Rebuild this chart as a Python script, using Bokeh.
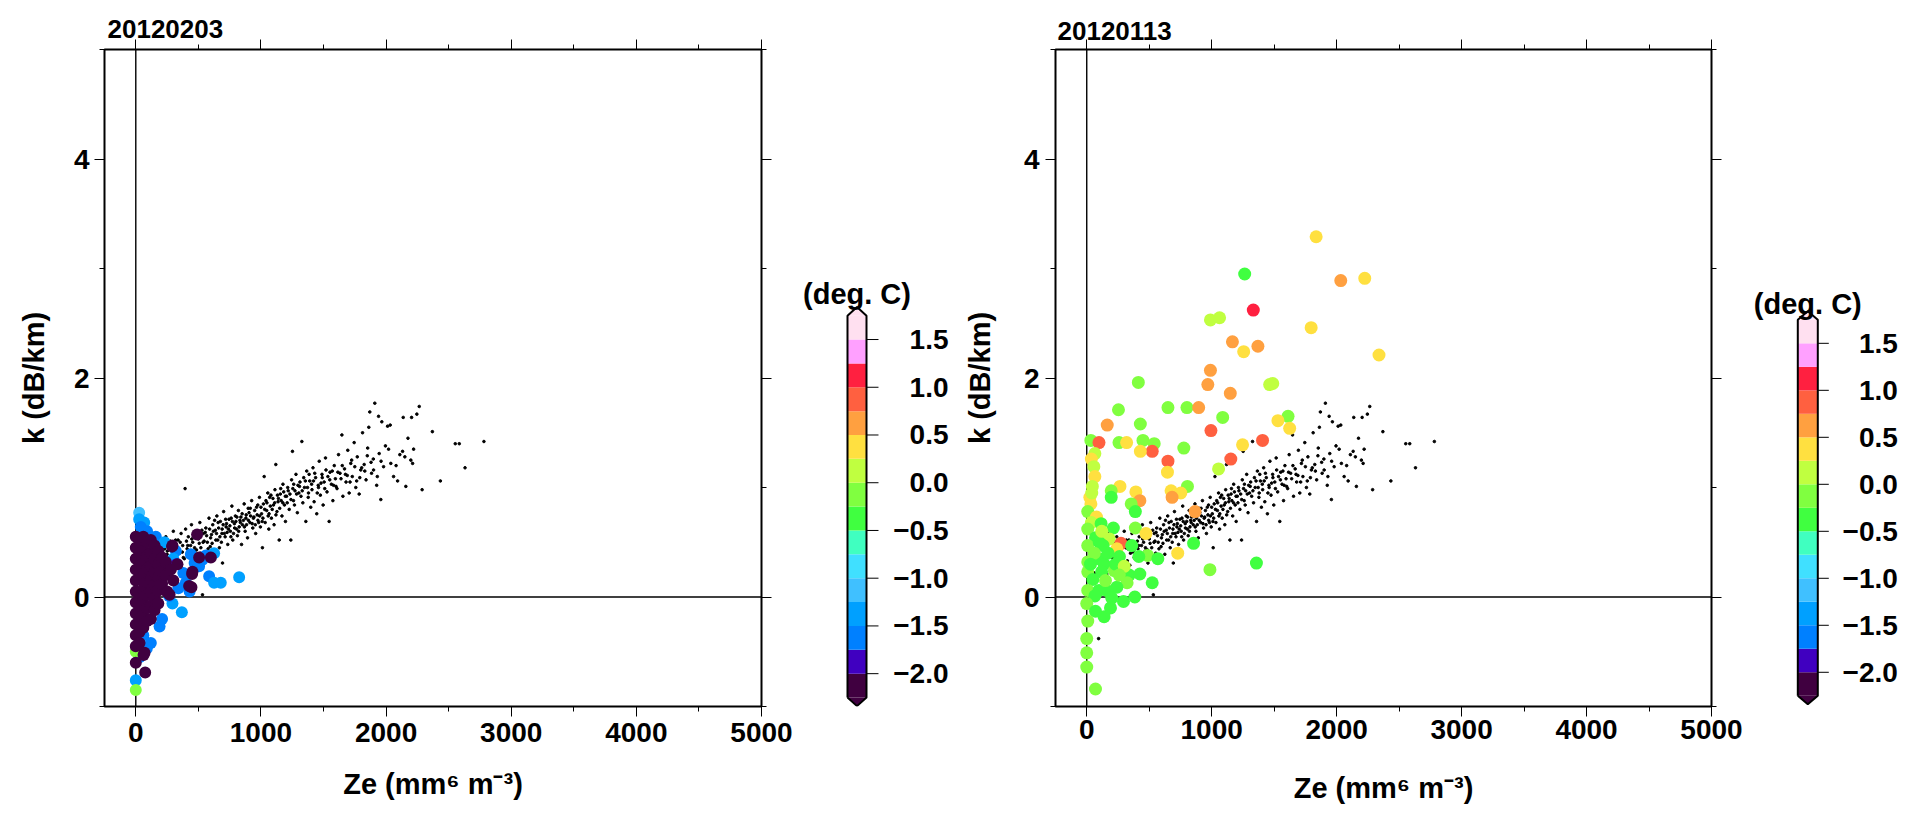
from bokeh.plotting import figure
from bokeh.layouts import row
from bokeh.models import (ColumnDataSource, LinearColorMapper, SingleIntervalTicker,
                          LinearAxis, Span, Range1d)
from bokeh.core.properties import value
from bokeh.embed import file_html
from bokeh.resources import INLINE

FONT = "Liberation Sans"

# ---------------- colour scale (deg. C) ----------------
levels = [-2.25, -2.0, -1.75, -1.5, -1.25, -1.0, -0.75, -0.5, -0.25,
          0.0, 0.25, 0.5, 0.75, 1.0, 1.25, 1.5, 1.75]
palette = ["#400040", "#4000c0", "#0080ff", "#00a0ff", "#40c0ff", "#40e0ff",
           "#40ffc0", "#40ff40", "#80ff40", "#c0ff40", "#ffe040", "#ffa040",
           "#ff6040", "#ff2040", "#ffa0ff", "#ffe0f0"]
under_color = "#400040"
over_color = "#ffe0f0"
cbar_ticks = [-2.0, -1.5, -1.0, -0.5, 0.0, 0.5, 1.0, 1.5]
cbar_tick_labels = ["\u22122.0", "\u22121.5", "\u22121.0", "\u22120.5",
                    "0.0", "0.5", "1.0", "1.5"]
cbar_title = "(deg. C)"

# ---------------- axis texts ----------------
x_label = "Ze (mm\u2076 m\u207b\u00b3)"
y_label = "k (dB/km)"
title_left = "20120203"
title_right = "20120113"

# ---------------- reference cloud (black dots, same in both panels) ----------------
ze_ref = [30, 45, 60, 75, 80, 95, 110, 120, 135, 150, 160, 175, 185, 195,
          205, 215, 228, 240, 252, 265, 276, 288, 300, 312, 325, 338, 350, 362, 375, 388, 394, 398,
          410, 420, 432, 445, 455, 468, 478, 490, 500, 512, 520, 533, 540, 552, 560, 572, 585, 595,
          605, 615, 625, 636, 648, 655, 668, 676, 688, 693, 702, 714, 722, 735, 745, 756, 768, 775, 788, 796,
          805, 812, 820, 832, 845, 852, 866, 874, 880, 893, 905, 912, 926, 935, 944, 958, 965, 976, 988, 996,
          1005, 1012, 1020, 1026, 1034, 1046, 1055, 1063, 1075, 1084, 1096, 1105, 1112, 1119, 1128, 1137,
          1146, 1155, 1168, 1176, 1188, 1196,
          1205, 1214, 1226, 1239, 1245, 1252, 1260, 1272, 1280, 1291, 1303, 1312, 1327, 1335, 1348, 1359,
          1366, 1378, 1390, 1398,
          1408, 1416, 1425, 1437, 1446, 1458, 1466, 1475, 1488, 1497, 1505, 1516, 1528, 1545, 1552, 1563,
          1575, 1586, 1595,
          1608, 1620, 1632, 1647, 1655, 1668, 1680, 1694, 1705, 1718, 1730, 1745, 1758, 1770, 1785, 1798,
          1812, 1825, 1840, 1853, 1862, 1870, 1884, 1898, 1910, 1925, 1940, 1945, 1958, 1966, 1980, 1995,
          2012, 2033, 2038, 2060, 2092, 2110, 2132, 2137, 2158, 2175, 2198, 2204, 2212, 2246, 2265, 2288,
          2370, 2434, 2553, 2585, 2631, 2782,
          230, 260, 285, 318, 345, 372, 405, 438, 462, 485, 507, 528, 546, 566, 590, 610, 630, 645, 662,
          684, 698, 718, 730, 752, 762, 781, 800, 826, 840, 860, 885, 898, 918, 930, 950, 970, 982, 1000,
          1016, 1040, 1058, 1070, 1090, 1110, 1132, 1150, 1162, 1182, 1210, 1232, 1255, 1268, 1296, 1320,
          1342, 1372, 1385, 1420, 1450, 1480, 1510, 1535, 1570, 1600, 1640, 1675, 1712, 1750, 1790, 1830,
          1880, 1930,
          250, 270, 295, 330, 355, 380, 415, 448, 470, 495, 515, 538, 555, 578, 598, 620, 640, 658, 672, 690,
          708, 725, 740, 760, 772, 790, 808, 822, 836, 850, 868, 882, 900, 915, 940, 955, 975, 990, 1010, 1030,
          1048, 1065, 1080, 1100, 1120, 1140, 1158, 1175, 1195, 1218, 1240, 1262, 1285, 1308, 1330, 1355,
          1380, 1405, 1430, 1460, 1490, 1520, 1550, 1580, 1615, 1650, 1690, 1725, 1765, 1805, 1850, 1900,
          1960, 2020, 2080, 2150, 2220]
k_ref = [0.12, 0.35, 0.22, 0.05, 0.41, -0.38, 0.28, 0.15, 0.47, 0.33, 0.21, 0.58, 0.40, 0.27,
         0.36, 0.49, 0.30, 0.55, 0.42, 0.24, 0.51, 0.37, 0.60, 0.45, 0.33, 0.52, 0.40, 0.58, 0.47, 0.35, 0.99, 0.62,
         0.44, 0.55, 0.38, 0.66, 0.50, 0.42, 0.60, 0.31, 0.53, 0.68, 0.45, 0.02, 0.58, 0.40, 0.63, 0.50, 0.72, 0.46,
         0.57, 0.66, 0.39, 0.61, 0.74, 0.52, 0.45, 0.69, 0.58, 0.31, 0.78, 0.55, 0.64, 0.48, 0.71, 0.60, 0.83, 0.52, 0.67, 0.74,
         0.62, 0.56, 0.79, 0.70, 0.48, 0.66, 0.85, 0.60, 0.72, 0.54, 0.77, 0.68, 0.88, 0.63, 0.73, 0.58, 0.82, 0.70, 0.91, 0.64,
         0.76, 0.45, 0.85, 1.10, 0.68, 0.79, 0.95, 0.62, 0.83, 0.72, 0.90, 0.66, 0.98, 1.21, 0.78, 0.87,
         0.52, 0.94, 0.74, 1.03, 0.84, 0.69,
         0.92, 1.00, 0.80, 0.52, 1.07, 1.33, 0.88, 0.97, 1.12, 0.77, 0.95, 1.05, 1.42, 0.86, 1.00, 0.69,
         1.15, 0.91, 1.06, 0.82,
         0.98, 1.18, 0.87, 1.09, 0.76, 1.02, 1.24, 0.93, 1.12, 0.84, 1.05, 1.27, 0.96, 0.69, 1.14, 1.03,
         0.88, 1.20, 1.08,
         0.99, 1.30, 1.13, 1.48, 0.92, 1.17, 1.05, 1.34, 0.95, 1.22, 1.10, 1.41, 1.00, 1.28, 0.94, 1.16,
         1.50, 1.21, 1.07, 1.36, 1.55, 1.69, 1.13, 1.26, 1.77, 1.02, 1.65, 1.31, 0.89, 1.60, 1.19, 1.38,
         1.56, 1.57, 1.22, 1.10, 1.06, 1.30, 1.33, 1.64, 1.01, 1.45, 1.25, 1.64, 1.22, 1.67, 1.74, 0.98,
         1.51, 1.06, 1.40, 1.40, 1.18, 1.42,
         0.44, 0.34, 0.46, 0.52, 0.29, 0.41, 0.51, 0.47, 0.57, 0.43, 0.49, 0.61, 0.51, 0.56, 0.62, 0.49, 0.70, 0.58, 0.63,
         0.50, 0.66, 0.71, 0.59, 0.65, 0.72, 0.58, 0.69, 0.64, 0.73, 0.70, 0.66, 0.81, 0.74, 0.67, 0.79, 0.75, 0.68, 0.82,
         0.72, 0.88, 0.74, 0.91, 0.80, 0.86, 0.93, 0.81, 0.88, 0.96, 0.86, 0.94, 0.99, 0.84, 1.02, 0.92,
         1.09, 1.00, 1.12, 1.06, 0.95, 1.04, 0.99, 1.10, 1.15, 1.01, 1.08, 1.12, 1.05, 1.19, 1.09, 1.15,
         1.23, 1.10,
         0.39, 0.47, 0.33, 0.44, 0.50, 0.36, 0.47, 0.53, 0.45, 0.55, 0.40, 0.50, 0.59, 0.44, 0.54, 0.60, 0.52, 0.68, 0.55, 0.62,
         0.58, 0.67, 0.62, 0.55, 0.69, 0.63, 0.73, 0.60, 0.68, 0.76, 0.64, 0.75, 0.70, 0.81, 0.72, 0.66, 0.84, 0.74, 0.69, 0.80,
         0.86, 0.76, 0.93, 0.84, 0.75, 0.90, 0.99, 0.86, 0.92, 0.97, 0.89, 1.03, 0.94, 1.01, 0.97, 1.06,
         0.95, 1.03, 1.13, 1.00, 1.09, 1.16, 1.07, 1.02, 1.14, 1.20, 1.11, 1.25, 1.06, 1.18, 1.29, 1.16,
         1.24, 1.35, 1.20, 1.28, 1.35]

# ---------------- left panel (20120203) coloured points ----------------
left_ze = [27, 27, 67, 40, 90, 160, 230, 320, 440, 533, 626, 506, 586, 626, 679, 826, 293, 368, 400,
           266, 380, 470, 250, 210, 190, 120, 88, 60, 0, 30, 150, 340, 430, 300, 560, 0, 0, 325,
           0, 0, 0, 0, 0, 0, 0, 0, 0, 0, 0, 0,
           30, 30, 30, 30, 30, 30, 30, 30, 30,
           60, 60, 60, 60, 60, 60, 60, 60, 70, 75, 62,
           90, 90, 90, 90, 90, 90, 90,
           120, 120, 120, 120, 120, 120, 120,
           150, 150, 150, 150, 150, 150,
           180, 180, 180, 180, 180,
           210, 210, 210, 240, 240, 250,
           293, 453, 426, 490, 506, 600, 333, 280, 300, 253, 270, 290, 450, 445]
left_k = [0.77, 0.71, 0.68, 0.64, 0.60, 0.55, 0.50, 0.42, 0.39, 0.34, 0.40, 0.28, 0.19, 0.13, 0.13, 0.18, -0.06, -0.14, 0.13,
          0.01, 0.22, 0.31, 0.30, -0.20, -0.27, -0.42, -0.47, -0.35, -0.76, -0.55, 0.15, 0.08, 0.05, 0.35, 0.38, -0.85, -0.50, 0.30,
          0.55, 0.45, 0.35, 0.25, 0.15, 0.05, -0.05, -0.15, -0.25, -0.35, -0.45, -0.60,
          0.52, 0.40, 0.28, 0.16, 0.04, -0.08, -0.20, -0.32, -0.42,
          0.55, 0.43, 0.31, 0.19, 0.07, -0.05, -0.17, -0.28, -0.51, -0.69, -0.53,
          0.50, 0.38, 0.26, 0.14, 0.02, -0.10, -0.22,
          0.52, 0.40, 0.28, 0.16, 0.04, -0.08, -0.20,
          0.47, 0.35, 0.23, 0.11, -0.01, -0.12,
          0.42, 0.30, 0.18, 0.06, -0.06,
          0.36, 0.24, 0.12, 0.32, 0.20, 0.05,
          0.47, 0.23, 0.10, 0.57, 0.36, 0.36, 0.30, 0.25, 0.15, 0.04, 0.02, 0.46, 0.21, 0.09]
left_t = [-1.1, -1.4, -1.4, -1.6, -1.6, -1.6, -1.4, -1.6, -1.6, -1.6, -1.4, -1.6, -1.6, -1.4, -1.4, -1.4, -1.4, -1.4, -1.6,
          -1.6, -1.6, -1.6, -1.6, -1.6, -1.6, -1.6, -1.6, -1.6, -1.4, -1.6, -1.6, -1.6, -1.6, -1.4, -1.6, -0.1, -0.1, -1.9,
          -2.4, -2.4, -2.4, -2.4, -2.4, -2.4, -2.4, -2.4, -2.4, -2.4, -2.4, -2.4,
          -2.4, -2.4, -2.4, -2.4, -2.4, -2.4, -2.4, -2.4, -2.4,
          -2.4, -2.4, -2.4, -2.4, -2.4, -2.4, -2.4, -2.4, -2.4, -2.4, -2.4,
          -2.4, -2.4, -2.4, -2.4, -2.4, -2.4, -2.4,
          -2.4, -2.4, -2.4, -2.4, -2.4, -2.4, -2.4,
          -2.4, -2.4, -2.4, -2.4, -2.4, -2.4,
          -2.4, -2.4, -2.4, -2.4, -2.4,
          -2.4, -2.4, -2.4, -2.4, -2.4, -2.4,
          -2.4, -2.4, -2.4, -2.4, -2.4, -2.4, -2.4, -2.4, -2.4, -2.4, -2.4, -2.4, -2.4, -2.4]

# ---------------- right panel (20120113) coloured points ----------------
right_ze = [1836, 1264, 2033, 2225, 1333, 990, 1063, 1166, 1370, 1796, 1256, 2339, 990, 969, 413, 1489, 1464,
            1149, 650, 802, 896, 254, 1088, 1611, 1530, 1624, 164, 429, 994, 33, 98, 258, 319, 450, 540,
            1407, 1247, 524, 429, 777, 65, 37, 650, 1153, 57, 1055, 646, 65, 45, 266, 806, 196, 393, 675,
            753, 196, 25, 683, 425, 33, 356, 8, 389, 867, 78, 37, 115, 389, 474, 8, 213, 70, 180, 855, 8,
            131, 274, 360, 241, 728, 487, 569, 8, 98, 139, 262, 417, 1358, 986, 8, 119, 221, 340, 425, 49,
            524, 323, 8, 98, 160, 241, 385, 65, 200, 0, 294, 70, 139, 8, 0, 0, 0, 70,
            170, 230, 150, 100, 300, 190, 260, 60, 30, 120, 40]
right_k = [3.29, 2.95, 2.89, 2.91, 2.62, 2.53, 2.55, 2.33, 2.29, 2.46, 2.24, 2.21, 2.07, 1.94, 1.96, 1.95, 1.94,
           1.86, 1.73, 1.73, 1.73, 1.71, 1.64, 1.65, 1.61, 1.54, 1.57, 1.58, 1.52, 1.43, 1.41, 1.41, 1.41, 1.43, 1.40,
           1.43, 1.39, 1.33, 1.33, 1.36, 1.31, 1.26, 1.24, 1.26, 1.19, 1.17, 1.14, 1.10, 1.01, 1.01, 1.01, 0.97, 0.96, 0.97,
           0.95, 0.91, 0.91, 0.91, 0.88, 0.85, 0.85, 0.78, 0.78, 0.78, 0.73, 0.68, 0.67, 0.63, 0.58, 0.62, 0.63, 0.54, 0.53, 0.49, 0.47,
           0.47, 0.49, 0.47, 0.44, 0.40, 0.38, 0.35, 0.32, 0.35, 0.30, 0.37, 0.37, 0.31, 0.25, 0.23, 0.23, 0.24, 0.20, 0.21, 0.16,
           0.13, 0.13, 0.06, 0.06, 0.06, 0.09, 0.00, 0.01, -0.01, -0.06, -0.04, -0.13, -0.18, -0.22, -0.38, -0.51, -0.64, -0.84,
           0.40, 0.30, 0.15, 0.50, 0.28, -0.10, 0.20, 0.40, 0.30, 0.60, 0.95]
right_t = [0.4, -0.4, 0.6, 0.4, 1.1, 0.1, 0.1, 0.6, 0.6, 0.4, 0.4, 0.4, 0.6, 0.6, -0.1, 0.1, 0.1,
           0.6, -0.1, -0.1, 0.6, -0.1, -0.1, -0.1, 0.4, 0.4, 0.6, -0.1, 0.9, -0.1, 0.9, -0.1, 0.4, -0.1, -0.1,
           0.9, 0.4, 0.9, 0.4, -0.1, 0.1, 0.4, 0.9, 0.9, 0.1, 0.1, 0.4, 0.4, 0.1, 0.4, -0.1, -0.1, 0.4, 0.4,
           0.4, -0.4, 0.4, 0.6, 0.6, 0.4, -0.1, -0.1, -0.4, 0.6, 0.4, 0.1, -0.4, -0.1, 0.4, -0.1, -0.4, -0.4, 0.1, -0.4, -0.1,
           -0.4, 0.9, -0.4, 0.4, 0.4, -0.1, -0.4, -0.1, -0.4, -0.4, -0.4, -0.4, -0.4, -0.1, -0.1, -0.4, -0.1, -0.4, -0.4, -0.4,
           -0.4, -0.1, -0.1, -0.4, -0.4, -0.4, -0.4, -0.4, -0.4, -0.1, -0.4, -0.4, -0.4, -0.1, -0.1, -0.1, -0.1, -0.1,
           -0.4, -0.4, -0.1, -0.4, 0.1, -0.4, -0.1, -0.1, -0.4, 0.1, 0.1]

x_range_vals = (-250, 5000)
y_range_vals = (-1, 5)

# shared vertical geometry (a Bokeh row aligns borders of its plots)
TOP, FRAME_H, BOTTOM = 49, 657, 107

mapper = LinearColorMapper(palette=palette, low=levels[0], high=levels[-1],
                           low_color=under_color, high_color=over_color)


def style_axis(ax, show_labels=True):
    ax.axis_line_color = None
    ax.major_tick_line_color = "black"
    ax.minor_tick_line_color = "black"
    ax.major_tick_line_width = 1
    ax.minor_tick_line_width = 1
    ax.major_tick_in = 0
    ax.major_tick_out = 10
    ax.minor_tick_in = 0
    ax.minor_tick_out = 5
    ax.major_label_text_font = FONT
    ax.major_label_text_font_style = "bold"
    ax.axis_label_text_font = FONT
    ax.axis_label_text_font_style = "bold"
    ax.axis_label_text_font_size = "29px"
    ax.axis_label_text_color = "black"
    if show_labels:
        ax.major_label_text_font_size = "28px"
        ax.major_label_text_color = "black"
    else:
        ax.major_label_text_font_size = "1px"
        ax.major_label_text_color = None
        ax.major_label_standoff = 0


def make_panel(title, ze, k, t, dot_size, fw, mbl, mbr,
               xt_standoff, xl_standoff, yt_standoff, yl_standoff, title_offset, title_standoff):
    p = figure(frame_width=fw, frame_height=FRAME_H,
               x_range=Range1d(*x_range_vals), y_range=Range1d(*y_range_vals),
               output_backend="svg", toolbar_location=None,
               min_border_left=mbl, min_border_right=mbr,
               min_border_top=TOP, min_border_bottom=BOTTOM)
    p.background_fill_color = "white"
    p.border_fill_color = "white"
    p.outline_line_color = "black"
    p.outline_line_width = 2
    p.xgrid.visible = False
    p.ygrid.visible = False

    p.title.text = title
    p.title.align = "left"
    p.title.offset = title_offset
    p.title.standoff = title_standoff
    p.title.text_font = FONT
    p.title.text_font_style = "bold"
    p.title.text_font_size = "26px"
    p.title.text_color = "black"

    xax = p.xaxis[0]
    yax = p.yaxis[0]
    xax.ticker = SingleIntervalTicker(interval=1000, num_minor_ticks=2)
    yax.ticker = SingleIntervalTicker(interval=2, num_minor_ticks=2)
    style_axis(xax)
    style_axis(yax)
    xax.axis_label = x_label
    yax.axis_label = y_label
    xax.major_label_standoff = xt_standoff
    xax.axis_label_standoff = xl_standoff
    yax.major_label_standoff = yt_standoff
    yax.axis_label_standoff = yl_standoff

    top = LinearAxis(ticker=SingleIntervalTicker(interval=1000, num_minor_ticks=2))
    right = LinearAxis(ticker=SingleIntervalTicker(interval=2, num_minor_ticks=2))
    style_axis(top, show_labels=False)
    style_axis(right, show_labels=False)
    p.add_layout(top, "above")
    p.add_layout(right, "right")

    p.add_layout(Span(location=0, dimension="height", line_color="black",
                      line_width=1.4, level="underlay"))
    p.add_layout(Span(location=0, dimension="width", line_color="black",
                      line_width=1.4, level="underlay"))

    p.scatter(ze_ref, k_ref, marker="circle", size=2.6, color="black")
    src = ColumnDataSource(dict(ze=ze, k=k, t=t))
    p.scatter("ze", "k", source=src, marker="circle", size=dot_size,
              fill_color={"field": "t", "transform": mapper}, line_color=None)
    return p


def make_cbar(fw, x_start, x_end, y_start, y_end, tick_len, label_dx, title_dy):
    c = figure(frame_width=fw, frame_height=FRAME_H,
               x_range=Range1d(x_start, x_end), y_range=Range1d(y_start, y_end),
               output_backend="svg", toolbar_location=None,
               x_axis_location=None, y_axis_location=None,
               min_border_left=0, min_border_right=0,
               min_border_top=TOP, min_border_bottom=BOTTOM)
    c.outline_line_color = None
    c.background_fill_color = "white"
    c.border_fill_color = "white"
    c.grid.visible = False
    ext = 0.09
    lo, hi = levels[0], levels[-1]
    c.quad(left=0, right=1, bottom=levels[:-1], top=levels[1:],
           fill_color=palette, line_color=None)
    c.patch([0, 0.5, 1], [hi, hi + ext, hi], fill_color=over_color, line_color=None)
    c.patch([0, 0.5, 1], [lo, lo - ext, lo], fill_color=under_color, line_color=None)
    c.line([0, 0, 0.5, 1, 1, 0.5, 0], [lo, hi, hi + ext, hi, lo, lo - ext, lo],
           line_color="black", line_width=2)
    # tick marks and labels of the colour scale
    c.ray(x=[1] * len(cbar_ticks), y=cbar_ticks, length=tick_len, length_units="screen",
          angle=0, line_color="black", line_width=1)
    c.text(x=[1] * len(cbar_ticks), y=cbar_ticks, text=cbar_tick_labels,
           x_offset=label_dx, text_align="right", text_baseline="middle",
           text_font=value(FONT), text_font_style="bold", text_font_size="28px",
           text_color="black")
    c.text(x=[0.5], y=[hi], text=[cbar_title], y_offset=title_dy,
           text_align="center", text_baseline="alphabetic",
           text_font=value(FONT), text_font_style="bold", text_font_size="29px",
           text_color="black")
    return c


p1 = make_panel(title_left, left_ze, left_k, left_t, 12, 657, 104, 33,
                6, 23, 5, 21, 3, 4)
c1 = make_cbar(166, -2.789, 5.947, -2.344, 4.538, 12, 82, -22)
p2 = make_panel(title_right, right_ze, right_k, right_t, 13, 656, 95, 36,
                3, 30, 6, 25, 2, 0)
c2 = make_cbar(156, -2.515, 5.285, -2.364, 4.626, 11, 80, -16)

layout = row(p1, c1, p2, c2)

open("out.html", "w").write(file_html(layout, INLINE))
